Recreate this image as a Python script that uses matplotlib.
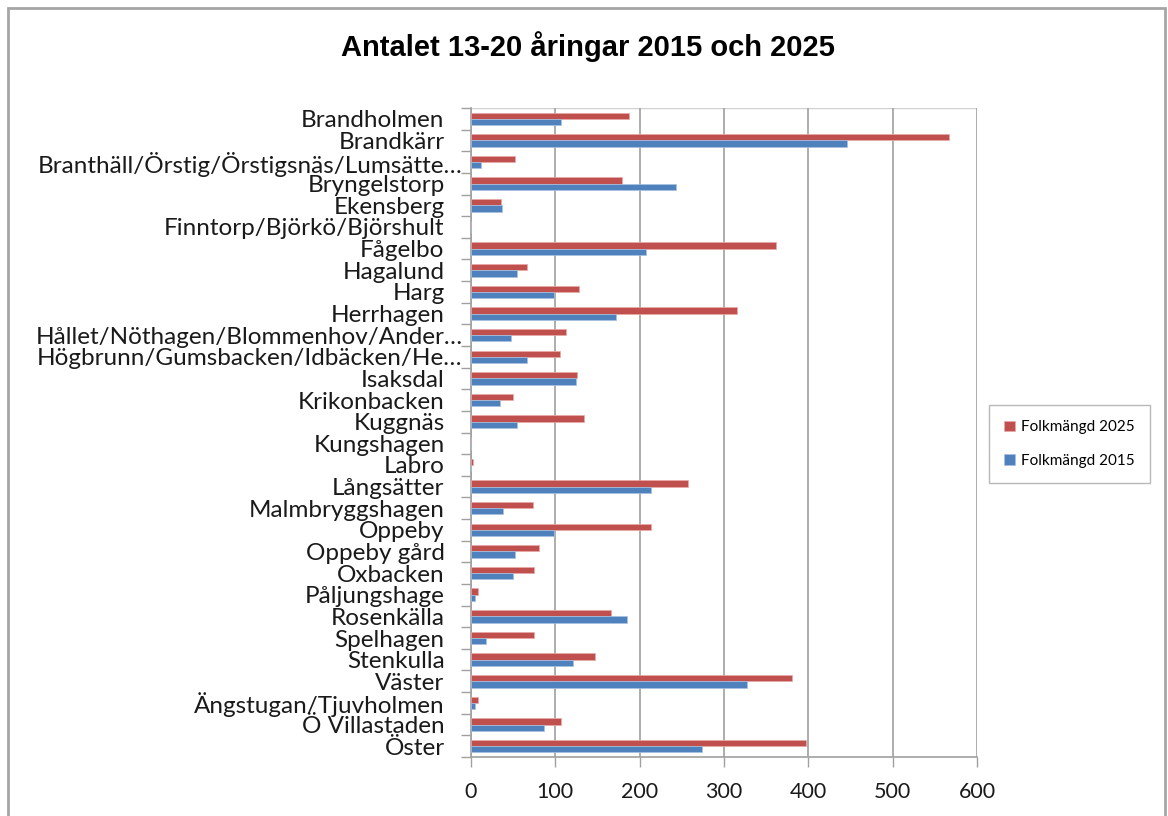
import matplotlib
matplotlib.use("Agg")
import matplotlib.pyplot as plt
import matplotlib.transforms as mtransforms
from matplotlib.patches import Rectangle
import numpy as np

categories = [
    "Brandholmen", "Brandkärr", "Branthäll/Örstig/Örstigsnäs/Lumsätte…",
    "Bryngelstorp", "Ekensberg", "Finntorp/Björkö/Björshult", "Fågelbo",
    "Hagalund", "Harg", "Herrhagen", "Hållet/Nöthagen/Blommenhov/Ander…",
    "Högbrunn/Gumsbacken/Idbäcken/He…", "Isaksdal", "Krikonbacken", "Kuggnäs",
    "Kungshagen", "Labro", "Långsätter", "Malmbryggshagen", "Oppeby",
    "Oppeby gård", "Oxbacken", "Påljungshage", "Rosenkälla", "Spelhagen",
    "Stenkulla", "Väster", "Ängstugan/Tjuvholmen", "Ö Villastaden", "Öster",
]
folk_2025 = [187, 567, 52, 179, 35, 0, 362, 66, 128, 315, 113, 105, 126, 50, 134,
             0, 2, 257, 73, 213, 81, 75, 8, 166, 75, 147, 381, 8, 107, 397]
folk_2015 = [107, 446, 12, 243, 37, 0, 208, 55, 98, 172, 47, 66, 125, 34, 55,
             0, 0, 213, 38, 98, 52, 50, 5, 185, 18, 121, 327, 5, 87, 274]
xticks = [0, 100, 200, 300, 400, 500, 600]
title = "Antalet 13-20 åringar 2015 och 2025"
legend_labels = ["Folkmängd 2025", "Folkmängd 2015"]

RED = "#C0504D"
BLUE = "#4F81BD"
GRID = "#A0A0A0"

W, H = 1168, 816
fig = plt.figure(figsize=(W / 100, H / 100), dpi=100)
fig.patch.set_facecolor("white")

# chart frame border
fig.add_artist(Rectangle((8 / W, -0.1), (1165 - 8) / W, (H - 8) / H + 0.1,
                         transform=fig.transFigure, fill=False,
                         edgecolor="#A6A6A6", linewidth=2))

left, right, top, bottom = 471, 977, 108, 757
ax = fig.add_axes([left / W, 1 - bottom / H, (right - left) / W, (bottom - top) / H])

n = len(categories)
y = np.arange(n)
bh = 0.29
ax.barh(y - bh / 2, folk_2025, height=bh, color=RED, edgecolor="#E8A9A8",
        linewidth=0.5, label=legend_labels[0], zorder=3)
ax.barh(y + bh / 2, folk_2015, height=bh, color=BLUE, edgecolor="#A9C1E0",
        linewidth=0.5, label=legend_labels[1], zorder=3)

ax.set_xlim(0, 600)
ax.set_ylim(n - 0.5, -0.5)
ax.set_xticks(xticks)
ax.set_xticklabels([str(v) for v in xticks], fontsize=15.5, family="Lato", color="#1a1a1a")
ax.tick_params(axis="x", direction="out", length=7, width=1, color=GRID, pad=11)
ax.grid(axis="x", color=GRID, linewidth=1.2, zorder=0)

# y: boundary ticks (major), labels at centers (minor)
ax.set_yticks(np.arange(n + 1) - 0.5)
ax.set_yticklabels([])
ax.tick_params(axis="y", which="major", direction="out", length=7, width=1, color=GRID)
ax.set_yticks(y, minor=True)
ax.set_yticklabels(categories, minor=True, fontsize=17.5, family="Lato", color="#1a1a1a")
ax.tick_params(axis="y", which="minor", length=0, pad=19)

offset = mtransforms.ScaledTranslation(18 / 100, 0, fig.dpi_scale_trans)
for lab in ax.get_yticklabels(minor=True):
    if lab.get_text().endswith("…"):
        lab.set_transform(lab.get_transform() + offset)

for side in ["top", "right"]:
    ax.spines[side].set_visible(False)
ax.spines["left"].set_color(GRID)
ax.spines["bottom"].set_color(GRID)
ax.spines["left"].set_linewidth(1.2)
ax.spines["bottom"].set_linewidth(1.2)
ax.axhline(-0.5, color="#D0D0D0", linewidth=1, zorder=1)

fig.text(588 / W, 1 - 47 / H, title, ha="center", va="center",
         fontsize=21, fontweight="bold", family="Liberation Sans")

leg = fig.legend(loc="upper left", bbox_to_anchor=(989 / W, 1 - 405 / H),
                 frameon=True, fancybox=False, edgecolor="#A6A6A6",
                 prop={"family": "Lato", "size": 11}, handlelength=0.7,
                 handleheight=0.7, handletextpad=0.4, labelspacing=1.3,
                 borderpad=1.0, borderaxespad=0)
leg.get_frame().set_linewidth(1)

fig.savefig("out.png", dpi=100, facecolor="white")
